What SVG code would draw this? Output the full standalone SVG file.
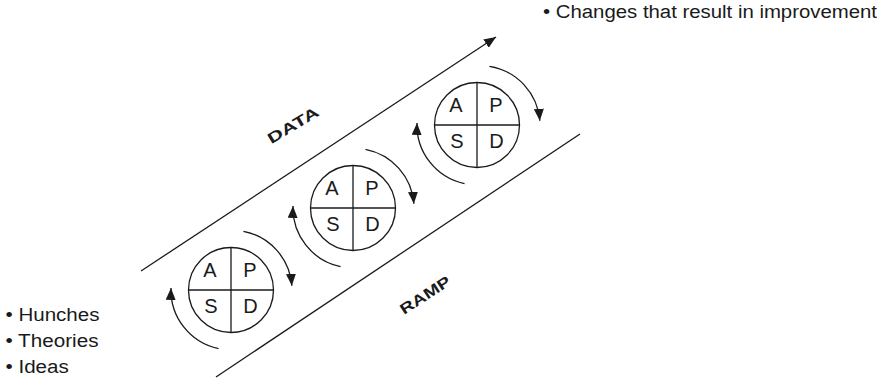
<svg xmlns="http://www.w3.org/2000/svg" width="895" height="379" viewBox="0 0 895 379">
<style>
.ln{fill:none;stroke:#1a1a1a;stroke-width:1.3}
.cir{fill:#fff;stroke:#1a1a1a;stroke-width:1.3}
.q{font-family:"Liberation Sans",Arial,sans-serif;font-size:20px;fill:#1a1a1a;text-anchor:middle}
.lbl{font-family:"Liberation Sans",Arial,sans-serif;font-size:18px;fill:#1a1a1a}
.bold{font-family:"Liberation Sans",Arial,sans-serif;font-size:15px;font-weight:bold;fill:#1a1a1a;text-anchor:middle}
</style>
<defs>
<marker id="ah" markerUnits="userSpaceOnUse" markerWidth="14" markerHeight="10" refX="12" refY="5" orient="auto">
<path d="M0,0 L12,5 L0,10 z" fill="#1a1a1a"/>
</marker>
<g id="pdsa">
<circle class="cir" cx="0" cy="0" r="42.5"/>
<line class="ln" x1="0" y1="-42.5" x2="0" y2="42.5"/>
<line class="ln" x1="-42.5" y1="0" x2="42.5" y2="0"/>
<text class="q" x="-21" y="-13.3">A</text>
<text class="q" x="19" y="-13.3">P</text>
<text class="q" x="-20" y="22.7">S</text>
<text class="q" x="19.5" y="22.7">D</text>
</g>
</defs>

<g id="connectors">
<path class="ln" d="M141,271 L496,37" marker-end="url(#ah)"/>
<path class="ln" d="M216,377 L580,134"/>
<path class="ln" d="M243.47,231.31 A60,60 0 0 1 291.85,285.81" marker-end="url(#ah)"/>
<path class="ln" d="M218.53,348.69 A60,60 0 0 1 171.01,287.95" marker-end="url(#ah)"/>
<path class="ln" d="M365.47,149.31 A60,60 0 0 1 413.85,203.81" marker-end="url(#ah)"/>
<path class="ln" d="M340.53,266.69 A60,60 0 0 1 293.01,205.95" marker-end="url(#ah)"/>
<path class="ln" d="M489.47,66.31 A60,60 0 0 1 539.85,120.81" marker-end="url(#ah)"/>
<path class="ln" d="M464.53,183.69 A60,60 0 0 1 417.01,122.95" marker-end="url(#ah)"/>
</g>

<g id="cycle1"><use href="#pdsa" x="231" y="290"/></g>
<g id="cycle2"><use href="#pdsa" x="353" y="208"/></g>
<g id="cycle3"><use href="#pdsa" x="477" y="125"/></g>

<g id="data-label" transform="translate(293,125) rotate(-31)">
<text class="bold" x="0" y="5.4" textLength="57" lengthAdjust="spacingAndGlyphs">DATA</text>
</g>
<g id="ramp-label" transform="translate(425,295) rotate(-33)">
<text class="bold" x="0" y="5.4" textLength="57" lengthAdjust="spacingAndGlyphs">RAMP</text>
</g>

<g id="inputs">
<text class="lbl" x="5.5" y="321" textLength="94" lengthAdjust="spacingAndGlyphs">• Hunches</text>
<text class="lbl" x="5.5" y="347" textLength="93" lengthAdjust="spacingAndGlyphs">• Theories</text>
<text class="lbl" x="5.5" y="373" textLength="63.3" lengthAdjust="spacingAndGlyphs">• Ideas</text>
</g>
<g id="output">
<text class="lbl" x="543" y="18" textLength="334" lengthAdjust="spacingAndGlyphs">• Changes that result in improvement</text>
</g>
</svg>
